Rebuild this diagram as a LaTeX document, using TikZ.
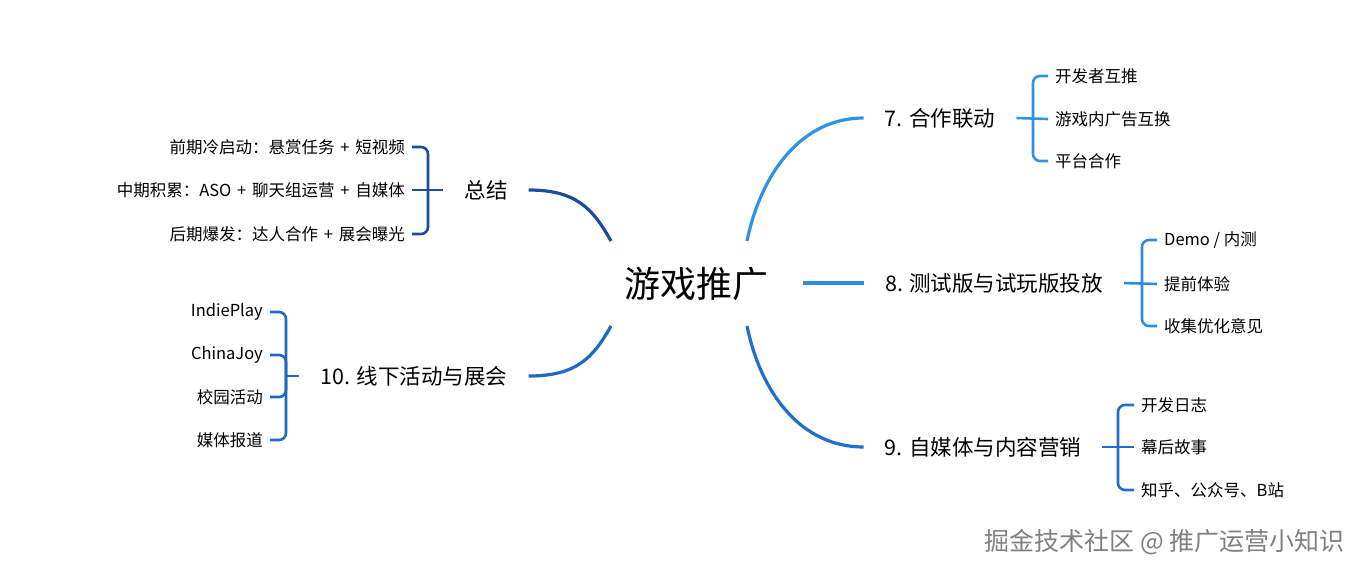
\documentclass[tikz,border=0pt]{standalone}
\usepackage{fontspec}
\setmainfont{Noto Sans CJK SC}
\usepackage{tikz}
\usetikzlibrary{positioning}

\definecolor{sumblue}{HTML}{1C4C9C}
\definecolor{offblue}{HTML}{1F68C4}
\definecolor{coopblue}{HTML}{2E92E6}
\definecolor{testblue}{HTML}{2E8CDE}
\definecolor{mediablue}{HTML}{1F70CC}
\newcommand{\plussign}{\hspace{0.35em}+\hspace{0.35em}}

\begin{document}
\begin{tikzpicture}[x=1pt, y=-1pt,
		hub/.style={font=\fontsize{36}{40}\selectfont, inner sep=0pt},
		branch/.style={font=\fontsize{21.5}{26}\selectfont, inner xsep=21pt, inner ysep=2pt},
		leaf/.style={font=\fontsize{16.5}{20}\selectfont, inner xsep=7pt, inner ysep=2pt},
		trunk/.style={line width=3.2pt},
		brace/.style={line width=2.6pt, rounded corners=7pt}]
	\useasboundingbox (0,0) rectangle (1363,574);
	
	\node[hub] (hub) at (696,284) {游戏推广};
	
	% branches
	\node[branch] (sum) at (486,190) {总结};
	\node[branch] (off) at (414,376) {10. 线下活动与展会};
	\node[branch] (coop) at (940,118) {7. 合作联动};
	\node[branch] (test) at (994,283) {8. 测试版与试玩版投放};
	\node[branch] (media) at (983,447) {9. 自媒体与内容营销};
	
	\draw[trunk, sumblue] ([shift={(-85,-43)}]hub.center) .. controls +(-18,-32) and +(48,0) .. (sum.east);
	\draw[trunk, offblue] ([shift={(-85,42)}]hub.center) .. controls +(-18,32) and +(48,0) .. (off.east);
	\draw[trunk, coopblue] ([shift={(51,-43)}]hub.center) .. controls +(14,-68) and +(-62,0) .. (coop.west);
	\draw[trunk, testblue] ([shift={(107,-1)}]hub.center) -- (test.west);
	\draw[trunk, mediablue] ([shift={(51,42)}]hub.center) .. controls +(14,68) and +(-62,0) .. (media.west);
	
	% summary
	\node[leaf, anchor=east] (s1) at (412,147) {前期冷启动：悬赏任务\plussign 短视频};
	\node[leaf, anchor=east] (s2) at (412,190) {中期积累：ASO\plussign 聊天组运营\plussign 自媒体};
	\node[leaf, anchor=east] (s3) at (412,234) {后期爆发：达人合作\plussign 展会曝光};
	\coordinate (bsum) at (428,190);
	\draw[brace, sumblue] (s1.east) -| (bsum) |- (s3.east);
	\draw[brace, sumblue] (s2.east) -- (sum.west);
	
	% offline
	\node[leaf, anchor=east] (o1) at (270,312) {IndiePlay};
	\node[leaf, anchor=east] (o2) at (270,355) {ChinaJoy};
	\node[leaf, anchor=east] (o3) at (270,397) {校园活动};
	\node[leaf, anchor=east] (o4) at (270,440) {媒体报道};
	\coordinate (boff) at (286,376);
	\draw[brace, offblue] (o1.east) -| (boff) |- (o4.east);
	\draw[brace, offblue] (o2.east) -| (boff);
	\draw[brace, offblue] (o3.east) -| (boff);
	\draw[brace, offblue] (boff) -- (off.west);
	
	% cooperation
	\node[leaf, anchor=west] (c1) at (1048,76) {开发者互推};
	\node[leaf, anchor=west] (c2) at (1048,119) {游戏内广告互换};
	\node[leaf, anchor=west] (c3) at (1048,161) {平台合作};
	\coordinate (bcoop) at (1033,118);
	\draw[brace, coopblue] (c1.west) -| (bcoop) |- (c3.west);
	\draw[brace, coopblue] (coop.east) -- (c2.west);
	
	% test builds
	\node[leaf, anchor=west] (t1) at (1157,240) {Demo / 内测};
	\node[leaf, anchor=west] (t2) at (1157,284) {提前体验};
	\node[leaf, anchor=west] (t3) at (1157,326) {收集优化意见};
	\coordinate (btest) at (1142,283);
	\draw[brace, testblue] (t1.west) -| (btest) |- (t3.west);
	\draw[brace, testblue] (test.east) -- (t2.west);
	
	% media
	\node[leaf, anchor=west] (m1) at (1134,405) {开发日志};
	\node[leaf, anchor=west] (m2) at (1134,447) {幕后故事};
	\node[leaf, anchor=west] (m3) at (1134,490) {知乎、公众号、B站};
	\coordinate (bmedia) at (1118,447);
	\draw[brace, mediablue] (m1.west) -| (bmedia) |- (m3.west);
	\draw[brace, mediablue] (media.east) -- (m2.west);
	
	\node[font=\fontsize{25}{30}\selectfont, text=black!50, anchor=east] (mark) at (1348,542) {掘金技术社区 @ 推广运营小知识};
\end{tikzpicture}
\end{document}
